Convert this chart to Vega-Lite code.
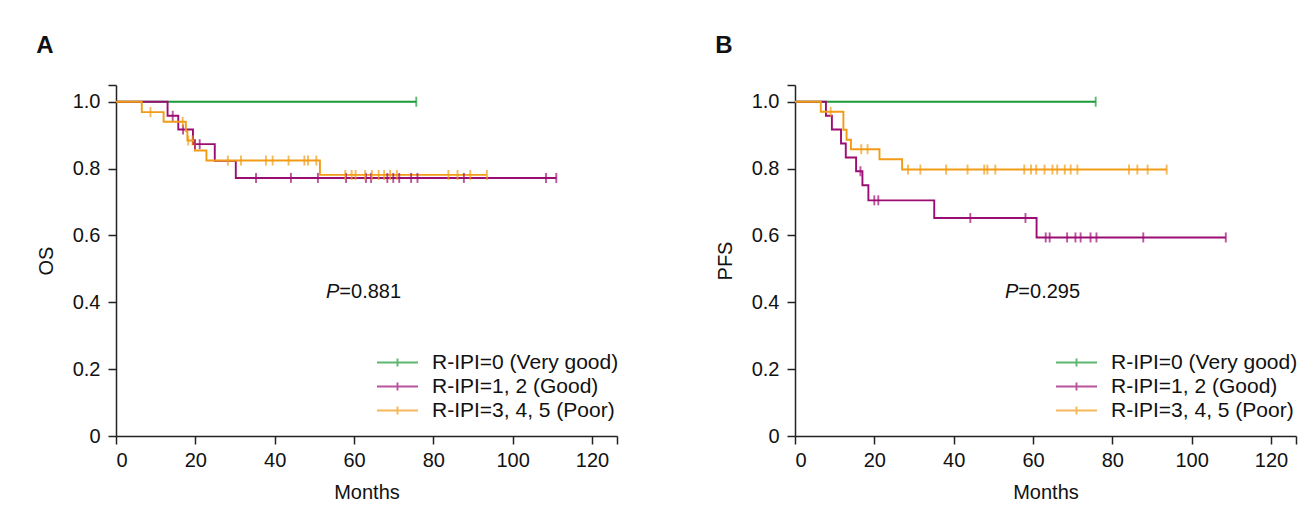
{
  "$schema": "https://vega.github.io/schema/vega-lite/v6.json",
  "padding": {"left": 36, "top": 34, "right": 0, "bottom": 0},
  "background": "white",
  "datasets": {
    "steps": [
      {"panel": "A", "group": "R-IPI=0 (Very good)", "t": 0, "s": 1},
      {"panel": "A", "group": "R-IPI=0 (Very good)", "t": 75.7, "s": 1},
      {"panel": "A", "group": "R-IPI=1, 2 (Good)", "t": 0, "s": 1},
      {"panel": "A", "group": "R-IPI=1, 2 (Good)", "t": 13.0, "s": 0.958},
      {"panel": "A", "group": "R-IPI=1, 2 (Good)", "t": 15.7, "s": 0.917},
      {"panel": "A", "group": "R-IPI=1, 2 (Good)", "t": 19.4, "s": 0.873},
      {"panel": "A", "group": "R-IPI=1, 2 (Good)", "t": 24.9, "s": 0.823},
      {"panel": "A", "group": "R-IPI=1, 2 (Good)", "t": 30.2, "s": 0.772},
      {"panel": "A", "group": "R-IPI=1, 2 (Good)", "t": 111.0, "s": 0.772},
      {"panel": "A", "group": "R-IPI=3, 4, 5 (Poor)", "t": 0, "s": 1},
      {"panel": "A", "group": "R-IPI=3, 4, 5 (Poor)", "t": 6.5, "s": 0.969},
      {"panel": "A", "group": "R-IPI=3, 4, 5 (Poor)", "t": 12.0, "s": 0.940},
      {"panel": "A", "group": "R-IPI=3, 4, 5 (Poor)", "t": 17.6, "s": 0.912},
      {"panel": "A", "group": "R-IPI=3, 4, 5 (Poor)", "t": 18.0, "s": 0.884},
      {"panel": "A", "group": "R-IPI=3, 4, 5 (Poor)", "t": 19.9, "s": 0.854},
      {"panel": "A", "group": "R-IPI=3, 4, 5 (Poor)", "t": 22.8, "s": 0.824},
      {"panel": "A", "group": "R-IPI=3, 4, 5 (Poor)", "t": 51.4, "s": 0.781},
      {"panel": "A", "group": "R-IPI=3, 4, 5 (Poor)", "t": 93.5, "s": 0.781},
      {"panel": "B", "group": "R-IPI=0 (Very good)", "t": 0, "s": 1},
      {"panel": "B", "group": "R-IPI=0 (Very good)", "t": 75.8, "s": 1},
      {"panel": "B", "group": "R-IPI=1, 2 (Good)", "t": 0, "s": 1},
      {"panel": "B", "group": "R-IPI=1, 2 (Good)", "t": 7.8, "s": 0.958},
      {"panel": "B", "group": "R-IPI=1, 2 (Good)", "t": 9.3, "s": 0.917},
      {"panel": "B", "group": "R-IPI=1, 2 (Good)", "t": 11.6, "s": 0.875},
      {"panel": "B", "group": "R-IPI=1, 2 (Good)", "t": 12.8, "s": 0.833},
      {"panel": "B", "group": "R-IPI=1, 2 (Good)", "t": 15.4, "s": 0.792},
      {"panel": "B", "group": "R-IPI=1, 2 (Good)", "t": 17.0, "s": 0.750},
      {"panel": "B", "group": "R-IPI=1, 2 (Good)", "t": 18.5, "s": 0.705},
      {"panel": "B", "group": "R-IPI=1, 2 (Good)", "t": 35.1, "s": 0.652},
      {"panel": "B", "group": "R-IPI=1, 2 (Good)", "t": 60.9, "s": 0.594},
      {"panel": "B", "group": "R-IPI=1, 2 (Good)", "t": 108.6, "s": 0.594},
      {"panel": "B", "group": "R-IPI=3, 4, 5 (Poor)", "t": 0, "s": 1},
      {"panel": "B", "group": "R-IPI=3, 4, 5 (Poor)", "t": 6.5, "s": 0.970},
      {"panel": "B", "group": "R-IPI=3, 4, 5 (Poor)", "t": 12.2, "s": 0.916},
      {"panel": "B", "group": "R-IPI=3, 4, 5 (Poor)", "t": 13.0, "s": 0.886},
      {"panel": "B", "group": "R-IPI=3, 4, 5 (Poor)", "t": 14.1, "s": 0.858},
      {"panel": "B", "group": "R-IPI=3, 4, 5 (Poor)", "t": 21.3, "s": 0.828},
      {"panel": "B", "group": "R-IPI=3, 4, 5 (Poor)", "t": 27.0, "s": 0.797},
      {"panel": "B", "group": "R-IPI=3, 4, 5 (Poor)", "t": 93.7, "s": 0.797}
    ],
    "censors": [
      {"panel": "A", "group": "R-IPI=0 (Very good)", "t": 75.7, "s": 1},
      {"panel": "A", "group": "R-IPI=1, 2 (Good)", "t": 14.3, "s": 0.958},
      {"panel": "A", "group": "R-IPI=1, 2 (Good)", "t": 16.9, "s": 0.917},
      {"panel": "A", "group": "R-IPI=1, 2 (Good)", "t": 19.9, "s": 0.873},
      {"panel": "A", "group": "R-IPI=1, 2 (Good)", "t": 21.1, "s": 0.873},
      {"panel": "A", "group": "R-IPI=1, 2 (Good)", "t": 35.3, "s": 0.772},
      {"panel": "A", "group": "R-IPI=1, 2 (Good)", "t": 44.1, "s": 0.772},
      {"panel": "A", "group": "R-IPI=1, 2 (Good)", "t": 50.9, "s": 0.772},
      {"panel": "A", "group": "R-IPI=1, 2 (Good)", "t": 58.0, "s": 0.772},
      {"panel": "A", "group": "R-IPI=1, 2 (Good)", "t": 63.0, "s": 0.772},
      {"panel": "A", "group": "R-IPI=1, 2 (Good)", "t": 64.3, "s": 0.772},
      {"panel": "A", "group": "R-IPI=1, 2 (Good)", "t": 68.4, "s": 0.772},
      {"panel": "A", "group": "R-IPI=1, 2 (Good)", "t": 69.9, "s": 0.772},
      {"panel": "A", "group": "R-IPI=1, 2 (Good)", "t": 71.4, "s": 0.772},
      {"panel": "A", "group": "R-IPI=1, 2 (Good)", "t": 74.4, "s": 0.772},
      {"panel": "A", "group": "R-IPI=1, 2 (Good)", "t": 76.0, "s": 0.772},
      {"panel": "A", "group": "R-IPI=1, 2 (Good)", "t": 87.7, "s": 0.772},
      {"panel": "A", "group": "R-IPI=1, 2 (Good)", "t": 108.4, "s": 0.772},
      {"panel": "A", "group": "R-IPI=1, 2 (Good)", "t": 111.0, "s": 0.772},
      {"panel": "A", "group": "R-IPI=3, 4, 5 (Poor)", "t": 8.7, "s": 0.969},
      {"panel": "A", "group": "R-IPI=3, 4, 5 (Poor)", "t": 16.8, "s": 0.940},
      {"panel": "A", "group": "R-IPI=3, 4, 5 (Poor)", "t": 18.2, "s": 0.884},
      {"panel": "A", "group": "R-IPI=3, 4, 5 (Poor)", "t": 19.3, "s": 0.884},
      {"panel": "A", "group": "R-IPI=3, 4, 5 (Poor)", "t": 28.2, "s": 0.824},
      {"panel": "A", "group": "R-IPI=3, 4, 5 (Poor)", "t": 31.5, "s": 0.824},
      {"panel": "A", "group": "R-IPI=3, 4, 5 (Poor)", "t": 37.8, "s": 0.824},
      {"panel": "A", "group": "R-IPI=3, 4, 5 (Poor)", "t": 39.5, "s": 0.824},
      {"panel": "A", "group": "R-IPI=3, 4, 5 (Poor)", "t": 43.5, "s": 0.824},
      {"panel": "A", "group": "R-IPI=3, 4, 5 (Poor)", "t": 47.5, "s": 0.824},
      {"panel": "A", "group": "R-IPI=3, 4, 5 (Poor)", "t": 48.4, "s": 0.824},
      {"panel": "A", "group": "R-IPI=3, 4, 5 (Poor)", "t": 50.5, "s": 0.824},
      {"panel": "A", "group": "R-IPI=3, 4, 5 (Poor)", "t": 57.8, "s": 0.781},
      {"panel": "A", "group": "R-IPI=3, 4, 5 (Poor)", "t": 59.4, "s": 0.781},
      {"panel": "A", "group": "R-IPI=3, 4, 5 (Poor)", "t": 60.4, "s": 0.781},
      {"panel": "A", "group": "R-IPI=3, 4, 5 (Poor)", "t": 62.8, "s": 0.781},
      {"panel": "A", "group": "R-IPI=3, 4, 5 (Poor)", "t": 64.5, "s": 0.781},
      {"panel": "A", "group": "R-IPI=3, 4, 5 (Poor)", "t": 66.2, "s": 0.781},
      {"panel": "A", "group": "R-IPI=3, 4, 5 (Poor)", "t": 67.6, "s": 0.781},
      {"panel": "A", "group": "R-IPI=3, 4, 5 (Poor)", "t": 69.1, "s": 0.781},
      {"panel": "A", "group": "R-IPI=3, 4, 5 (Poor)", "t": 70.8, "s": 0.781},
      {"panel": "A", "group": "R-IPI=3, 4, 5 (Poor)", "t": 83.8, "s": 0.781},
      {"panel": "A", "group": "R-IPI=3, 4, 5 (Poor)", "t": 86.1, "s": 0.781},
      {"panel": "A", "group": "R-IPI=3, 4, 5 (Poor)", "t": 89.3, "s": 0.781},
      {"panel": "A", "group": "R-IPI=3, 4, 5 (Poor)", "t": 93.5, "s": 0.781},
      {"panel": "B", "group": "R-IPI=0 (Very good)", "t": 75.8, "s": 1},
      {"panel": "B", "group": "R-IPI=1, 2 (Good)", "t": 16.5, "s": 0.792},
      {"panel": "B", "group": "R-IPI=1, 2 (Good)", "t": 20.0, "s": 0.705},
      {"panel": "B", "group": "R-IPI=1, 2 (Good)", "t": 21.0, "s": 0.705},
      {"panel": "B", "group": "R-IPI=1, 2 (Good)", "t": 44.2, "s": 0.652},
      {"panel": "B", "group": "R-IPI=1, 2 (Good)", "t": 58.1, "s": 0.652},
      {"panel": "B", "group": "R-IPI=1, 2 (Good)", "t": 63.2, "s": 0.594},
      {"panel": "B", "group": "R-IPI=1, 2 (Good)", "t": 64.2, "s": 0.594},
      {"panel": "B", "group": "R-IPI=1, 2 (Good)", "t": 68.6, "s": 0.594},
      {"panel": "B", "group": "R-IPI=1, 2 (Good)", "t": 70.7, "s": 0.594},
      {"panel": "B", "group": "R-IPI=1, 2 (Good)", "t": 72.0, "s": 0.594},
      {"panel": "B", "group": "R-IPI=1, 2 (Good)", "t": 74.5, "s": 0.594},
      {"panel": "B", "group": "R-IPI=1, 2 (Good)", "t": 76.0, "s": 0.594},
      {"panel": "B", "group": "R-IPI=1, 2 (Good)", "t": 87.8, "s": 0.594},
      {"panel": "B", "group": "R-IPI=1, 2 (Good)", "t": 108.6, "s": 0.594},
      {"panel": "B", "group": "R-IPI=3, 4, 5 (Poor)", "t": 9.0, "s": 0.970},
      {"panel": "B", "group": "R-IPI=3, 4, 5 (Poor)", "t": 16.7, "s": 0.858},
      {"panel": "B", "group": "R-IPI=3, 4, 5 (Poor)", "t": 18.3, "s": 0.858},
      {"panel": "B", "group": "R-IPI=3, 4, 5 (Poor)", "t": 28.5, "s": 0.797},
      {"panel": "B", "group": "R-IPI=3, 4, 5 (Poor)", "t": 31.6, "s": 0.797},
      {"panel": "B", "group": "R-IPI=3, 4, 5 (Poor)", "t": 38.1, "s": 0.797},
      {"panel": "B", "group": "R-IPI=3, 4, 5 (Poor)", "t": 43.5, "s": 0.797},
      {"panel": "B", "group": "R-IPI=3, 4, 5 (Poor)", "t": 47.7, "s": 0.797},
      {"panel": "B", "group": "R-IPI=3, 4, 5 (Poor)", "t": 48.5, "s": 0.797},
      {"panel": "B", "group": "R-IPI=3, 4, 5 (Poor)", "t": 50.5, "s": 0.797},
      {"panel": "B", "group": "R-IPI=3, 4, 5 (Poor)", "t": 57.8, "s": 0.797},
      {"panel": "B", "group": "R-IPI=3, 4, 5 (Poor)", "t": 59.5, "s": 0.797},
      {"panel": "B", "group": "R-IPI=3, 4, 5 (Poor)", "t": 60.8, "s": 0.797},
      {"panel": "B", "group": "R-IPI=3, 4, 5 (Poor)", "t": 62.9, "s": 0.797},
      {"panel": "B", "group": "R-IPI=3, 4, 5 (Poor)", "t": 64.9, "s": 0.797},
      {"panel": "B", "group": "R-IPI=3, 4, 5 (Poor)", "t": 66.1, "s": 0.797},
      {"panel": "B", "group": "R-IPI=3, 4, 5 (Poor)", "t": 68.0, "s": 0.797},
      {"panel": "B", "group": "R-IPI=3, 4, 5 (Poor)", "t": 69.5, "s": 0.797},
      {"panel": "B", "group": "R-IPI=3, 4, 5 (Poor)", "t": 71.2, "s": 0.797},
      {"panel": "B", "group": "R-IPI=3, 4, 5 (Poor)", "t": 84.2, "s": 0.797},
      {"panel": "B", "group": "R-IPI=3, 4, 5 (Poor)", "t": 86.3, "s": 0.797},
      {"panel": "B", "group": "R-IPI=3, 4, 5 (Poor)", "t": 88.9, "s": 0.797},
      {"panel": "B", "group": "R-IPI=3, 4, 5 (Poor)", "t": 93.7, "s": 0.797}
    ],
    "pvals": [
      {"panel": "A", "t": 56.3, "s": 0.432, "p": "P", "v": "=0.881"},
      {"panel": "B", "t": 56.3, "s": 0.432, "p": "P", "v": "=0.295"}
    ]
  },
  "hconcat": [
    {
      "width": 501, "height": 351,
      "title": {"text": "A"},
      "layer": [
        {
          "data": {"name": "steps"},
          "transform": [{"filter": "datum.panel == 'A'"}],
          "mark": {"type": "line", "interpolate": "step-after", "strokeWidth": 1.9},
          "encoding": {
            "x": {"field": "t", "type": "quantitative", "scale": {"domain": [0, 126.3], "nice": false}, "axis": {"title": "Months", "values": [0, 20, 40, 60, 80, 100, 120, 126.3], "labelExpr": "datum.value > 121 ? '' : datum.label"}},
            "y": {"field": "s", "type": "quantitative", "scale": {"domain": [0, 1.05], "nice": false}, "axis": {"title": "OS", "values": [0, 0.2, 0.4, 0.6, 0.8, 1.0, 1.05], "labelExpr": "datum.value > 1.01 ? '' : (datum.value == 0 ? '0' : format(datum.value, '.1f'))"}},
            "color": {"field": "group", "type": "nominal", "scale": {"domain": ["R-IPI=0 (Very good)", "R-IPI=1, 2 (Good)", "R-IPI=3, 4, 5 (Poor)"], "range": ["#1a9a35", "#9c0d73", "#f29b16"]}, "legend": {"title": null}}
          }
        },
        {
          "data": {"name": "censors"},
          "transform": [{"filter": "datum.panel == 'A'"}],
          "mark": {"type": "tick", "orient": "vertical", "size": 10, "thickness": 1.9},
          "encoding": {
            "x": {"field": "t", "type": "quantitative"},
            "y": {"field": "s", "type": "quantitative"},
            "color": {"field": "group", "type": "nominal"}
          }
        },
        {
          "data": {"name": "pvals"},
          "transform": [{"filter": "datum.panel == 'A'"}],
          "mark": {"type": "text", "align": "right", "baseline": "middle", "fontStyle": "italic", "fontSize": 20, "color": "#111"},
          "encoding": {"x": {"field": "t", "type": "quantitative"}, "y": {"field": "s", "type": "quantitative"}, "text": {"field": "p"}}
        },
        {
          "data": {"name": "pvals"},
          "transform": [{"filter": "datum.panel == 'A'"}],
          "mark": {"type": "text", "align": "left", "baseline": "middle", "fontSize": 20, "color": "#111"},
          "encoding": {"x": {"field": "t", "type": "quantitative"}, "y": {"field": "s", "type": "quantitative"}, "text": {"field": "v"}}
        }
      ]
    },
    {
      "width": 501, "height": 351,
      "title": {"text": "B"},
      "layer": [
        {
          "data": {"name": "steps"},
          "transform": [{"filter": "datum.panel == 'B'"}],
          "mark": {"type": "line", "interpolate": "step-after", "strokeWidth": 1.9},
          "encoding": {
            "x": {"field": "t", "type": "quantitative", "scale": {"domain": [0, 126.3], "nice": false}, "axis": {"title": "Months", "values": [0, 20, 40, 60, 80, 100, 120, 126.3], "labelExpr": "datum.value > 121 ? '' : datum.label"}},
            "y": {"field": "s", "type": "quantitative", "scale": {"domain": [0, 1.05], "nice": false}, "axis": {"title": "PFS", "values": [0, 0.2, 0.4, 0.6, 0.8, 1.0, 1.05], "labelExpr": "datum.value > 1.01 ? '' : (datum.value == 0 ? '0' : format(datum.value, '.1f'))"}},
            "color": {"field": "group", "type": "nominal", "scale": {"domain": ["R-IPI=0 (Very good)", "R-IPI=1, 2 (Good)", "R-IPI=3, 4, 5 (Poor)"], "range": ["#1a9a35", "#9c0d73", "#f29b16"]}, "legend": {"title": null}}
          }
        },
        {
          "data": {"name": "censors"},
          "transform": [{"filter": "datum.panel == 'B'"}],
          "mark": {"type": "tick", "orient": "vertical", "size": 10, "thickness": 1.9},
          "encoding": {
            "x": {"field": "t", "type": "quantitative"},
            "y": {"field": "s", "type": "quantitative"},
            "color": {"field": "group", "type": "nominal"}
          }
        },
        {
          "data": {"name": "pvals"},
          "transform": [{"filter": "datum.panel == 'B'"}],
          "mark": {"type": "text", "align": "right", "baseline": "middle", "fontStyle": "italic", "fontSize": 20, "color": "#111"},
          "encoding": {"x": {"field": "t", "type": "quantitative"}, "y": {"field": "s", "type": "quantitative"}, "text": {"field": "p"}}
        },
        {
          "data": {"name": "pvals"},
          "transform": [{"filter": "datum.panel == 'B'"}],
          "mark": {"type": "text", "align": "left", "baseline": "middle", "fontSize": 20, "color": "#111"},
          "encoding": {"x": {"field": "t", "type": "quantitative"}, "y": {"field": "s", "type": "quantitative"}, "text": {"field": "v"}}
        }
      ]
    }
  ],
  "spacing": 178,
  "bounds": "flush",
  "resolve": {"scale": {"color": "independent", "x": "independent", "y": "independent"}, "legend": {"color": "independent"}},
  "config": {
    "font": "Liberation Sans",
    "view": {"stroke": null},
    "title": {"anchor": "start", "frame": "bounds", "fontSize": 24, "fontWeight": "bold", "color": "#111", "offset": 26},
    "axis": {
      "grid": false,
      "domainColor": "#222", "domainWidth": 1.5,
      "tickColor": "#222", "tickWidth": 1.5, "tickSize": 8,
      "labelFontSize": 20, "labelColor": "#111", "labelPadding": 4,
      "titleFontSize": 20, "titleFontWeight": "normal", "titleColor": "#111"
    },
    "axisX": {"titlePadding": 12, "labelPadding": 6},
    "axisY": {"titlePadding": 16, "labelPadding": 8},
    "legend": {
      "orient": "none", "legendX": 270, "legendY": 266,
      "labelFontSize": 21, "labelColor": "#111", "labelLimit": 400, "labelOffset": 23,
      "symbolType": "M-2,0H2M0,-0.4V0.4", "symbolSize": 420, "symbolStrokeWidth": 1.9,
      "rowPadding": 2, "padding": 0
    }
  }
}
